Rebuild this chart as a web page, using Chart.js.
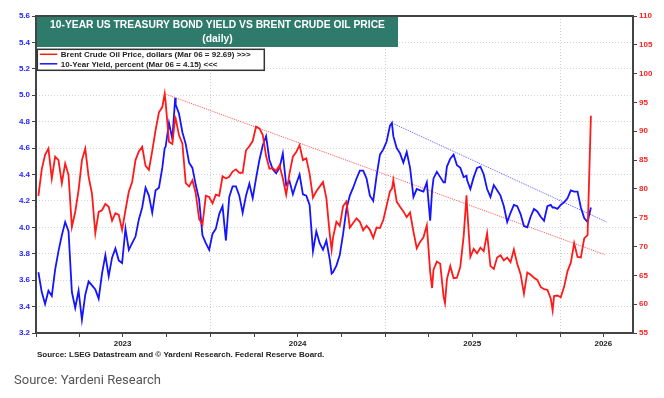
<!DOCTYPE html>
<html>
<head>
<meta charset="utf-8">
<script src="https://cdn.jsdelivr.net/npm/chart.js@4.4.1/dist/chart.umd.min.js"></script>
<style>
  html, body { margin: 0; padding: 0; background: #fff; }
  #wrap { position: relative; width: 664px; height: 398px; }
  #note { position: absolute; left: 14px; top: 372px; font: 13px/15px Roboto, "Open Sans", sans-serif; color: #555; }
</style>
</head>
<body>
<div id="wrap">
  <canvas id="chart" width="664" height="398"></canvas>
  <div id="note">Source: Yardeni Research</div>
</div>
<script>
// weekly closes (Fridays) plus a few turning-point days
const dates = [
  '2023-01-06','2023-01-13','2023-01-20','2023-01-27','2023-02-03','2023-02-10','2023-02-17','2023-02-24',
  '2023-03-03','2023-03-10','2023-03-17','2023-03-24','2023-03-31','2023-04-07','2023-04-14','2023-04-21',
  '2023-04-28','2023-05-05','2023-05-12','2023-05-19','2023-05-26','2023-06-02','2023-06-09','2023-06-16',
  '2023-06-23','2023-06-30','2023-07-07','2023-07-14','2023-07-21','2023-07-28','2023-08-04','2023-08-11',
  '2023-08-18','2023-08-25','2023-09-01','2023-09-08','2023-09-15','2023-09-22','2023-09-27','2023-09-29',
  '2023-10-06','2023-10-13','2023-10-19','2023-10-20','2023-10-27','2023-11-03','2023-11-10','2023-11-17',
  '2023-11-24','2023-12-01','2023-12-08','2023-12-15','2023-12-22','2023-12-29',
  '2024-01-05','2024-01-12','2024-01-19','2024-01-26','2024-02-02','2024-02-09','2024-02-16','2024-02-23',
  '2024-03-01','2024-03-08','2024-03-15','2024-03-22','2024-03-29','2024-04-05','2024-04-12','2024-04-19',
  '2024-04-26','2024-05-03','2024-05-10','2024-05-17','2024-05-24','2024-05-31','2024-06-07','2024-06-14',
  '2024-06-21','2024-06-28','2024-07-05','2024-07-12','2024-07-19','2024-07-26','2024-08-02','2024-08-09',
  '2024-08-16','2024-08-23','2024-08-30','2024-09-06','2024-09-10','2024-09-13','2024-09-20','2024-09-27',
  '2024-10-04','2024-10-11','2024-10-18','2024-10-25','2024-11-01','2024-11-08','2024-11-15','2024-11-22',
  '2024-11-29','2024-12-06','2024-12-13','2024-12-20','2024-12-27',
  '2025-01-03','2025-01-10','2025-01-14','2025-01-17','2025-01-24','2025-01-31','2025-02-07','2025-02-14',
  '2025-02-21','2025-02-28','2025-03-07','2025-03-14','2025-03-21','2025-03-28','2025-04-04','2025-04-08',
  '2025-04-11','2025-04-18','2025-04-25','2025-05-02','2025-05-05','2025-05-09','2025-05-16','2025-05-23',
  '2025-05-30','2025-06-06','2025-06-13','2025-06-19','2025-06-20','2025-06-27','2025-07-04','2025-07-11',
  '2025-07-18','2025-07-25','2025-08-01','2025-08-08','2025-08-15','2025-08-22','2025-08-29','2025-09-05',
  '2025-09-12','2025-09-19','2025-09-26','2025-10-03','2025-10-10','2025-10-17','2025-10-24','2025-10-31',
  '2025-11-07','2025-11-14','2025-11-21','2025-11-28','2025-12-05','2025-12-12','2025-12-16','2025-12-19',
  '2025-12-26',
  '2026-01-02','2026-01-09','2026-01-16','2026-01-23','2026-01-30','2026-02-06','2026-02-13','2026-02-20',
  '2026-02-27','2026-03-06'
];

// Brent crude, dollars
const brent = [
  78.8, 83.4, 85.9, 87.0, 81.8, 85.6, 85.0, 81.0, 84.4, 82.4, 73.4, 76.0, 79.8, 85.0, 87.0, 82.1,
  79.2, 72.3, 76.0, 76.3, 77.4, 76.9, 74.5, 75.8, 75.5, 72.9, 76.3, 79.5, 81.2, 85.0, 86.5, 87.3,
  84.0, 83.3, 86.6, 90.2, 93.3, 94.2, 96.5, 95.0, 88.2, 87.8, 92.4, 92.2, 89.3, 87.9, 81.0, 80.4,
  81.5, 79.2, 74.8, 73.8, 78.8, 78.6,
  77.5, 79.0, 78.8, 82.2, 81.8, 82.1, 83.0, 83.4, 82.8, 82.8, 86.7, 87.4, 88.3, 90.8, 90.5, 89.4,
  85.7, 83.5, 83.6, 83.1, 84.1, 81.8, 79.0, 82.7, 85.6, 86.4, 87.6, 85.0, 85.3, 82.6, 78.5, 79.6,
  80.4, 81.2, 78.4, 72.2, 69.4, 71.6, 74.3, 73.6, 77.0, 77.8, 73.3, 74.1, 74.9, 74.3, 72.8, 73.6,
  72.9, 71.5, 73.3, 73.2, 74.6,
  77.1, 79.6, 80.0, 81.5, 77.8, 76.9, 76.1, 75.1, 75.9, 72.6, 69.7, 70.8, 71.6, 73.7, 65.6, 62.8,
  66.0, 67.4, 67.0, 61.3, 60.2, 64.3, 66.6, 64.5, 64.6, 66.5, 71.8, 78.9, 77.0, 68.2, 69.6, 68.8,
  69.8, 69.2, 72.3, 66.6, 66.1, 68.1, 68.5, 67.6, 68.1, 67.3, 69.5, 67.0, 65.2, 61.8, 65.5, 65.1,
  64.6, 64.2, 63.0, 62.6, 62.5, 61.0, 58.9, 61.4, 61.5,
  61.2, 63.0, 65.7, 67.2, 70.6, 68.2, 68.1, 71.4, 72.0, 92.69
];

// 10-year Treasury yield, percent
const yield10 = [
  3.66, 3.51, 3.42, 3.52, 3.48, 3.68, 3.82, 3.94, 4.04, 3.97, 3.51, 3.39, 3.52, 3.30, 3.49, 3.59,
  3.56, 3.53, 3.46, 3.65, 3.79, 3.63, 3.77, 3.84, 3.75, 3.73, 3.99, 3.83, 3.88, 3.93, 4.06, 4.15,
  4.30, 4.24, 4.11, 4.28, 4.30, 4.45, 4.60, 4.61, 4.79, 4.67, 4.98, 4.93, 4.86, 4.72, 4.63, 4.49,
  4.45, 4.32, 4.21, 3.94, 3.88, 3.83,
  3.95, 3.99, 4.10, 4.16, 3.90, 4.23, 4.31, 4.31, 4.24, 4.11, 4.24, 4.33, 4.22, 4.37, 4.51, 4.62,
  4.69, 4.51, 4.44, 4.41, 4.45, 4.56, 4.32, 4.35, 4.25, 4.33, 4.40, 4.25, 4.24, 4.17, 3.82, 3.97,
  3.88, 3.83, 3.90, 3.76, 3.65, 3.66, 3.71, 3.79, 3.95, 4.14, 4.24, 4.30, 4.37, 4.43, 4.43, 4.37,
  4.24, 4.20, 4.39, 4.55, 4.59,
  4.65, 4.77, 4.79, 4.69, 4.60, 4.56, 4.49, 4.57, 4.45, 4.23, 4.29, 4.28, 4.27, 4.34, 4.05, 4.28,
  4.37, 4.42, 4.38, 4.34, 4.34, 4.46, 4.52, 4.55, 4.47, 4.45, 4.38, 4.39, 4.36, 4.29, 4.38, 4.45,
  4.46, 4.40, 4.29, 4.23, 4.32, 4.28, 4.24, 4.16, 4.04, 4.11, 4.17, 4.16, 4.10, 4.01, 4.00, 4.08,
  4.14, 4.12, 4.08, 4.05, 4.16, 4.17, 4.15, 4.15, 4.14,
  4.17, 4.19, 4.22, 4.28, 4.27, 4.27, 4.15, 4.07, 4.04, 4.15
];

// dotted trend lines
const brentTrendDates = ['2023-09-27', '2026-04-04'];
const brentTrend = [96.5, 68.6];
const yieldTrendDates = ['2025-01-14', '2026-04-08'];
const yieldTrend = [4.79, 4.04];

// axes
const leftTicks = [3.2, 3.4, 3.6, 3.8, 4.0, 4.2, 4.4, 4.6, 4.8, 5.0, 5.2, 5.4, 5.6];
const rightTicks = [55, 60, 65, 70, 75, 80, 85, 90, 95, 100, 105, 110];
const quarterTicks = [
  '2023-01-01','2023-04-01','2023-07-01','2023-10-01','2024-01-01','2024-04-01','2024-07-01','2024-10-01',
  '2025-01-01','2025-04-01','2025-07-01','2025-10-01','2026-01-01','2026-04-01'
];
const yearLabelDates = ['2023-07-01', '2024-07-01', '2025-07-01', '2026-04-01'];
const yearLabels = ['2023', '2024', '2025', '2026'];
const yearGridDates = ['2024-01-01', '2025-01-01', '2026-01-01'];

const titleLines = ['10-YEAR US TREASURY BOND YIELD VS BRENT CRUDE OIL PRICE', '(daily)'];
const sourceText = 'Source: LSEG Datastream and \u00A9 Yardeni Research. Federal Reserve Board.';

const ms = s => Date.parse(s + 'T00:00:00Z');
const FONT = '"Liberation Sans", Arial, Helvetica, sans-serif';
const tickFont = { family: FONT, size: 8, weight: 'bold' };
const gridAt = yearGridDates.map(ms);
const labelAt = yearLabelDates.map(ms);

const series = (xs, ys) => xs.map((d, i) => ({ x: ms(d), y: ys[i] }));

const decor = {
  id: 'decor',
  afterDraw(chart) {
    const { ctx, chartArea: a } = chart;
    ctx.save();
    // plot frame
    ctx.strokeStyle = '#444';
    ctx.lineWidth = 2;
    ctx.strokeRect(a.left, a.top, a.right - a.left, a.bottom - a.top);

    // title box
    ctx.fillStyle = '#2e7b6c';
    ctx.fillRect(a.left + 1, a.top + 1, 361, 30);
    ctx.fillStyle = '#fff';
    ctx.font = 'bold 10.3px ' + FONT;
    ctx.textAlign = 'center';
    ctx.textBaseline = 'middle';
    ctx.fillText(titleLines[0], a.left + 181.5, a.top + 9.5);
    ctx.fillText(titleLines[1], a.left + 181.5, a.top + 23.5);

    // legend box
    const lx = a.left + 1.3, ly = a.top + 33.3;
    ctx.fillStyle = '#fff';
    ctx.fillRect(lx, ly, 227, 21);
    ctx.strokeStyle = '#333';
    ctx.lineWidth = 1.5;
    ctx.strokeRect(lx, ly, 227, 21);
    ctx.font = 'bold 8px ' + FONT;
    ctx.textAlign = 'left';
    [0, 1].forEach(i => {
      const ds = chart.data.datasets[i];
      const y = ly + 5 + i * 9.5;
      ctx.strokeStyle = ds.borderColor;
      ctx.lineWidth = 1.5;
      ctx.beginPath();
      ctx.moveTo(lx + 2.5, y);
      ctx.lineTo(lx + 20, y);
      ctx.stroke();
      ctx.fillStyle = '#222';
      ctx.fillText(ds.label, lx + 23.5, y + 0.5);
    });

    // source line
    ctx.fillStyle = '#222';
    ctx.font = 'bold 8px ' + FONT;
    ctx.fillText(sourceText, a.left + 1, 355);
    ctx.restore();
  }
};

new Chart(document.getElementById('chart'), {
  type: 'line',
  data: {
    datasets: [
      {
        label: 'Brent Crude Oil Price, dollars (Mar 06 = 92.69) >>>',
        data: series(dates, brent),
        yAxisID: 'yR',
        borderColor: '#ff1a1a',
        borderWidth: 1.8,
        pointRadius: 0,
        tension: 0
      },
      {
        label: '10-Year Yield, percent (Mar 06 = 4.15) <<<',
        data: series(dates, yield10),
        yAxisID: 'yL',
        borderColor: '#1414ff',
        borderWidth: 1.8,
        pointRadius: 0,
        tension: 0
      },
      {
        data: series(brentTrendDates, brentTrend),
        yAxisID: 'yR',
        borderColor: '#ff5050',
        borderWidth: 1,
        borderDash: [1, 1],
        pointRadius: 0
      },
      {
        data: series(yieldTrendDates, yieldTrend),
        yAxisID: 'yL',
        borderColor: '#5a5aff',
        borderWidth: 1,
        borderDash: [1, 1],
        pointRadius: 0
      }
    ]
  },
  options: {
    responsive: false,
    animation: false,
    devicePixelRatio: 1,
    layout: { padding: { top: 16, bottom: 43, left: 0, right: 0 } },
    plugins: { legend: { display: false }, tooltip: { enabled: false } },
    scales: {
      x: {
        type: 'linear',
        min: ms('2023-01-01'),
        max: ms('2026-06-02'),
        afterBuildTicks: s => { s.ticks = quarterTicks.map(d => ({ value: ms(d) })); },
        afterFit: s => { s.height = 22; },
        grid: {
          color: c => (c.tick && gridAt.includes(c.tick.value)) ? '#cfcfcf' : 'rgba(0,0,0,0)',
          tickColor: '#444',
          tickLength: 4
        },
        border: { display: false, dash: [1, 2] },
        ticks: {
          autoSkip: false,
          maxRotation: 0,
          padding: 2,
          color: '#222',
          font: tickFont,
          callback: v => { const i = labelAt.indexOf(v); return i < 0 ? '' : yearLabels[i]; }
        }
      },
      yL: {
        position: 'left',
        min: 3.2,
        max: 5.6,
        afterBuildTicks: s => { s.ticks = leftTicks.map(v => ({ value: v })); },
        afterFit: s => { s.width = 36; },
        grid: { color: '#d2d2d2', tickColor: '#444', tickLength: 4 },
        border: { display: false, dash: [1, 2] },
        ticks: { padding: 2, color: '#2424ff', font: tickFont, callback: v => v.toFixed(1) }
      },
      yR: {
        position: 'right',
        min: 55,
        max: 110,
        afterBuildTicks: s => { s.ticks = rightTicks.map(v => ({ value: v })); },
        afterFit: s => { s.width = 31; },
        grid: { drawOnChartArea: false, tickColor: '#444', tickLength: 4 },
        border: { display: false },
        ticks: { padding: 2, color: '#ff2020', font: tickFont, callback: v => String(v) }
      }
    }
  },
  plugins: [decor]
});
</script>
</body>
</html>
